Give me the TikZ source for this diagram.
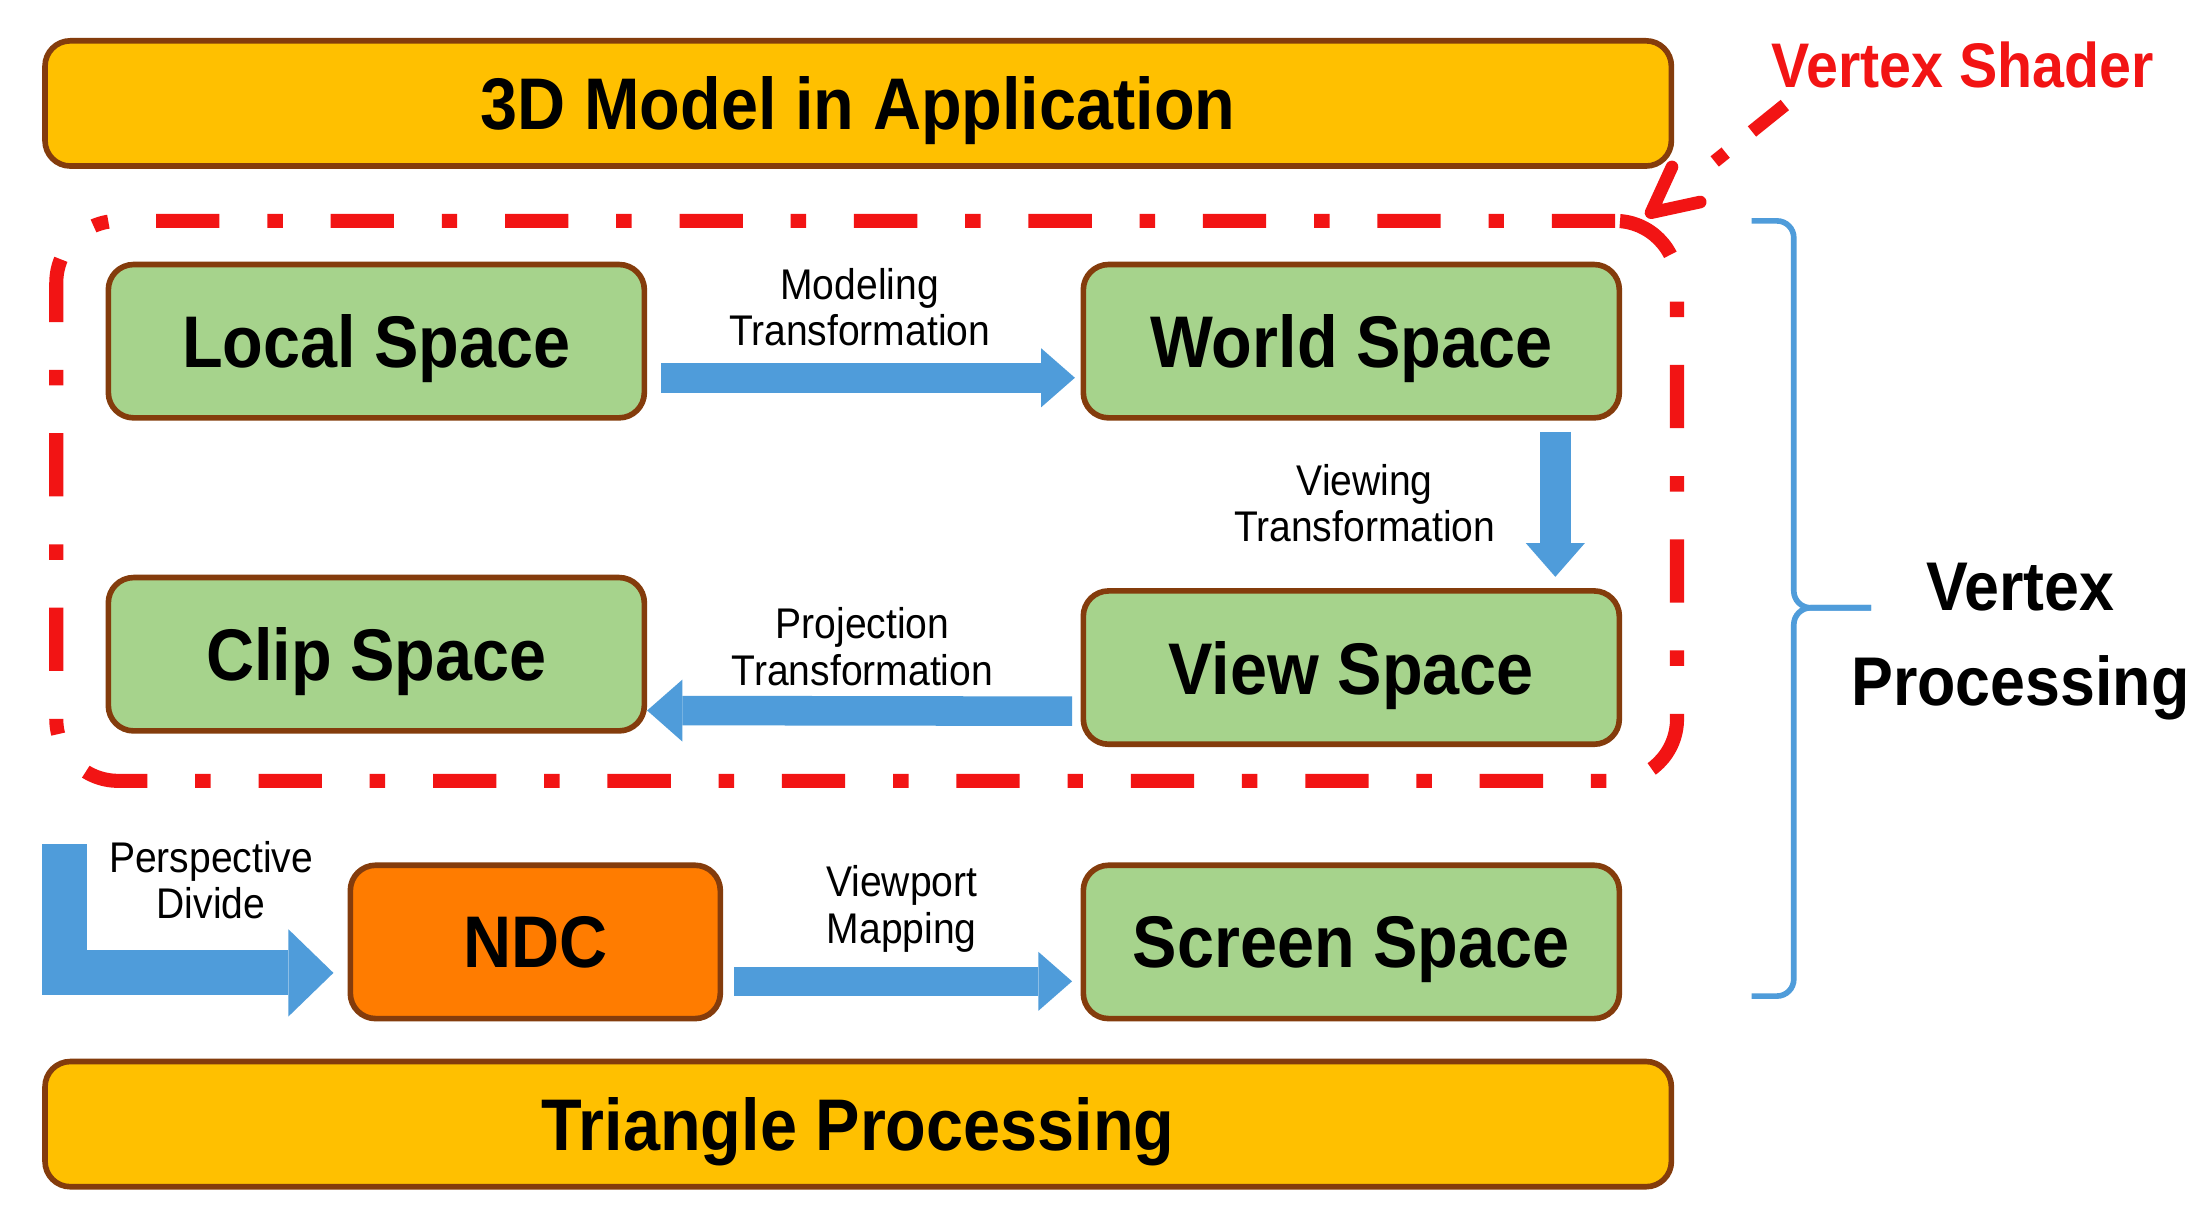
\documentclass[tikz,border=0pt]{standalone}
\usepackage{fontspec}
\setmainfont{Liberation Sans}[FakeStretch=0.91]
\usetikzlibrary{arrows.meta,calc}
\definecolor{boxbrown}{HTML}{843C0C}
\definecolor{yel}{HTML}{FFC000}
\definecolor{grn}{HTML}{A6D38C}
\definecolor{org}{HTML}{FF7C00}
\definecolor{arrblue}{HTML}{4F9CDA}
\definecolor{vsred}{HTML}{F21414}
\begin{document}
\begin{tikzpicture}[x=0.5pt,y=-0.5pt,
  box/.style={draw=boxbrown, line width=2pt, rounded corners=9pt, inner sep=0pt,
    text depth=0pt, font=\fontsize{26}{30}\selectfont\bfseries},
  widebox/.style={box, fill=yel, minimum width=578pt, minimum height=44.5pt},
  spacebox/.style={box, fill=grn, minimum width=190.5pt, minimum height=54.5pt},
  ndcbox/.style={box, fill=org, minimum width=131.5pt, minimum height=54.5pt},
  lbl/.style={inner sep=0pt, align=center, font=\fontsize{15.25}{16.5}\selectfont},
  blockarrow/.style={arrblue, line width=10.5pt,
    -{Triangle[length=12pt,width=21pt,line width=0pt]}},
  redline/.style={vsred, line width=5pt,
    dash pattern=on 22.5pt off 17pt on 5.5pt off 17pt},
  brace/.style={arrblue, line width=2pt, rounded corners=6pt}
]
\useasboundingbox (0,0) rectangle (1568,864);
\fill[white] (0,0) rectangle (1568,864);

% boxes
\node[widebox] (top) at (610,73.5) {3D Model in Application};
\node[spacebox] (local) at (267.5,242.5) {Local Space};
\node[spacebox] (world) at (960.5,242.5) {World Space};
\node[spacebox] (clip) at (267.5,465) {Clip Space};
\node[spacebox] (view) at (960.5,474.5) {View Space};
\node[ndcbox] (ndc) at (380.5,669.5) {NDC};
\node[spacebox] (screen) at (960.5,669.5) {Screen Space};
\node[widebox] (tri) at (610,799) {Triangle Processing};

% vertex shader region
\node[redline, draw, rounded corners=22pt, minimum width=576pt, minimum height=199pt, inner sep=0pt] (vs) at (616,356) {};
\node[inner sep=0pt, text depth=0pt, text=vsred, font=\fontsize{22.4}{26}\selectfont\bfseries] (vslabel) at (1395,46) {Vertex Shader};
\draw[vsred, line width=4.7pt, dash pattern=on 15pt off 12pt on 5pt off 40pt,
  -{Straight Barb[length=16pt,width=16pt,line width=4.5pt,round]}]
  ($(vslabel.south west)+(10,12)$) -- ($(vs.north east)+(-27,2)$);

% transformation arrows
\draw[blockarrow] ($(local.east)+(10,26)$) -- ($(world.west)+(-4,26)$);
\node[lbl] (modlbl) at (611,218.5) {Modeling\\Transformation};

\draw[blockarrow, line width=11pt] ($(world.south)+(145,8)$) -- ($(view.north)+(145,-8)$);
\node[lbl] (viewlbl) at (970,357.5) {Viewing\\Transformation};

\draw[blockarrow, -{Triangle[length=12.5pt,width=22pt,line width=0pt]}] ($(view.west)+(-6,31)$) -- ($(clip.east)+(0,40)$);
\node[lbl] (projlbl) at (613,459.5) {Projection\\Transformation};

\coordinate (pd) at (46,600);
\draw[blockarrow, line width=16pt, line join=miter, -{Triangle[length=16pt,width=31pt,line width=0pt]}]
  (pd) |- ($(ndc.west)+(-10,22)$);
\node[lbl] (pdlbl) at (150,625.5) {Perspective\\Divide};

\draw[blockarrow] ($(ndc.east)+(8,28)$) -- ($(screen.west)+(-6,28)$);
\node[lbl] (vplbl) at (641,646) {Viewport\\Mapping};

% vertex processing brace
\draw[brace] (1245,157) -- (1275,157) -- (1275,432) -- (1330,432);
\draw[brace] (1330,432) -- (1275,432) -- (1275,708) -- (1245,708);
\node[inner sep=0pt, align=center, font=\fontsize{24.5}{33.5}\selectfont\bfseries] (vplabel) at (1436,456) {Vertex\\Processing};
\end{tikzpicture}
\end{document}
